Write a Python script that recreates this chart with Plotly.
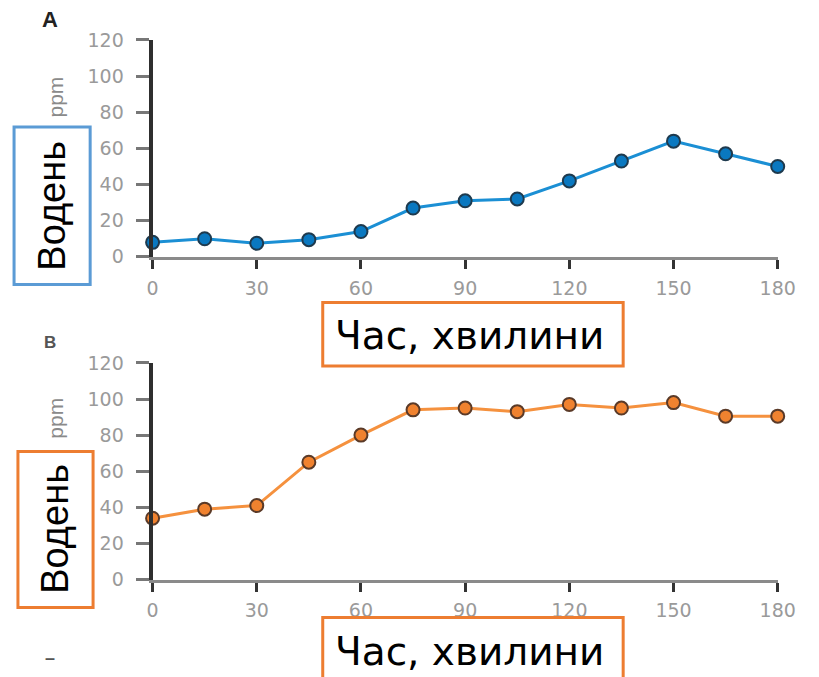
import plotly.graph_objects as go

# ---- data ----
time_min = [0, 15, 30, 45, 60, 75, 90, 105, 120, 135, 150, 165, 180]
hydrogen_a = [8, 10, 7.5, 9.5, 14, 27, 31, 32, 42, 53, 64, 57, 50]
hydrogen_b = [34, 39, 41, 65, 80, 94, 95, 93, 97, 95, 98, 90.5, 90.5]
x_ticks = [0, 30, 60, 90, 120, 150, 180]
y_ticks = [0, 20, 40, 60, 80, 100, 120]
y_label = "Водень"
x_label = "Час, хвилини"

W, H = 819, 677
SY, OY = 0.967, 10.0
def fx(p):
    return p / W
def fy(p):
    return 1 - ((p - OY) / SY) / H

fig = go.Figure()

fig.add_trace(go.Scatter(
    x=time_min, y=hydrogen_a, mode="lines+markers", xaxis="x", yaxis="y",
    line=dict(color="#1b8fd4", width=3),
    marker=dict(size=13, color="#0a78c0", line=dict(color="#1e3a4e", width=2)),
    cliponaxis=False, showlegend=False, hoverinfo="skip"))
fig.add_trace(go.Scatter(
    x=time_min, y=hydrogen_b, mode="lines+markers", xaxis="x2", yaxis="y2",
    line=dict(color="#f5913e", width=3),
    marker=dict(size=13, color="#f0822f", line=dict(color="#5a3a28", width=2)),
    cliponaxis=False, showlegend=False, hoverinfo="skip"))

tickfont = dict(family="DejaVu Sans", size=19, color="#9a9a9a")
xdom = [fx(151), fx(795)]

def xaxis_cfg(anchor):
    return dict(domain=xdom, anchor=anchor, range=[0, 180], tickvals=x_ticks,
                showgrid=False, zeroline=False, showline=True, linecolor="#8a8a8a",
                linewidth=3, ticks="outside", ticklen=9, tickwidth=2.5, tickcolor="#333",
                tickfont=tickfont, ticklabelstandoff=3, fixedrange=True)

def yaxis_cfg(anchor, dom):
    return dict(domain=dom, anchor=anchor, range=[0, 120], tickvals=y_ticks,
                showgrid=False, zeroline=False, showline=True, linecolor="#2e2e2e",
                linewidth=4, ticks="outside", ticklen=13, tickwidth=3, tickcolor="#777",
                tickfont=tickfont, ticklabelstandoff=8, fixedrange=True)

fig.update_layout(
    width=W, height=H, margin=dict(l=0, r=0, t=0, b=0),
    plot_bgcolor="white", paper_bgcolor="white",
    xaxis=xaxis_cfg("y"),
    yaxis=yaxis_cfg("x", [fy(255.7), fy(38.9)]),
    xaxis2=xaxis_cfg("y2"),
    yaxis2=yaxis_cfg("x2", [fy(578.3), fy(361.7)]),
)

shapes = []
def box(x0, y0, x1, y1, color):
    shapes.append(dict(type="rect", xref="paper", yref="paper",
                       x0=fx(x0), x1=fx(x1), y0=fy(y1), y1=fy(y0),
                       line=dict(color=color, width=3), fillcolor="white", layer="above"))
blue = "#5b9bd5"
orange = "#ed7d31"
box(8.3, 126, 86.7, 283.3, blue)
box(326.3, 301.3, 635.8, 364.7, orange)
box(12.3, 450.3, 89.7, 606.3, orange)
box(326.3, 616.3, 635.8, 700, orange)
fig.update_layout(shapes=shapes)

anns = []
def txt(x, y, text, size, color="black", angle=0, family="Liberation Sans", bold=False):
    anns.append(dict(x=fx(x), y=fy(y), xref="paper", yref="paper", text=("<b>%s</b>" % text) if bold else text,
                     showarrow=False, xanchor="center", yanchor="middle", textangle=angle,
                     font=dict(family=family, size=size, color=color)))
txt(45, 18, "A", 22, "#222", bold=True)
txt(45, 341, "B", 17, "#555", bold=True)
txt(51, 96, "ppm", 21, "#8a8a8a", angle=-90)
txt(51, 417, "ppm", 21, "#8a8a8a", angle=-90)
txt(48, 205, y_label, 38, "black", angle=-90)
txt(51, 528, y_label, 38, "black", angle=-90)
txt(478, 334, x_label, 39, "black", family="DejaVu Sans")
txt(478, 650, x_label, 39, "black", family="DejaVu Sans")
txt(45, 657, "–", 18, "#555", bold=True)
fig.update_layout(annotations=anns)

post = (
    "document.documentElement.style.overflow='hidden';"
    "document.body.style.margin='0';document.body.style.overflow='hidden';"
)
fig.write_html("out.html", config={"displayModeBar": False}, post_script=post)
